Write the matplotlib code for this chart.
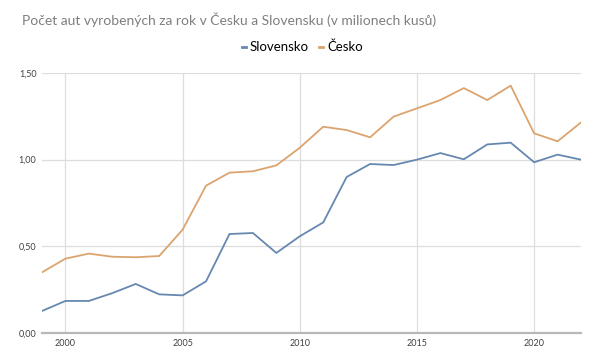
import matplotlib
matplotlib.use("Agg")
import matplotlib.pyplot as plt
from matplotlib.ticker import FuncFormatter
from matplotlib.lines import Line2D

# data (millions of cars)
years = list(range(1999, 2023))
slovensko = [0.127, 0.185, 0.185, 0.23, 0.283, 0.223, 0.217, 0.298, 0.571, 0.577,
             0.462, 0.558, 0.638, 0.90, 0.975, 0.969, 1.0, 1.038, 1.002, 1.088,
             1.098, 0.985, 1.029, 1.0]
cesko = [0.35, 0.429, 0.458, 0.44, 0.437, 0.444, 0.596, 0.85, 0.925, 0.933,
         0.967, 1.069, 1.19, 1.171, 1.129, 1.248, 1.296, 1.344, 1.413, 1.344,
         1.427, 1.152, 1.106, 1.215]
x_ticks = [2000, 2005, 2010, 2015, 2020]
y_ticks = [0.0, 0.5, 1.0, 1.5]

blue = "#6688b0"
orange = "#dba46e"

plt.rcParams["font.family"] = ["Lato", "DejaVu Sans"]

fig = plt.figure(figsize=(6.05, 3.64), dpi=100)
ax = fig.add_axes([42 / 605, 1 - 333 / 364, (581 - 42) / 605, (333 - 73) / 364])

ax.plot(years, slovensko, color=blue, lw=1.3)
ax.plot(years, cesko, color=orange, lw=1.3)

ax.set_xlim(1999, 2022)
ax.set_ylim(0, 1.5)
ax.set_xticks(x_ticks)
ax.set_yticks(y_ticks)
ax.yaxis.set_major_formatter(FuncFormatter(lambda v, p: f"{v:.2f}".replace(".", ",")))
ax.tick_params(length=0, labelsize=6.5, colors="#404040", pad=4)

ax.grid(True, color="#dddddd", lw=0.9)
ax.set_axisbelow(True)
for s in ["top", "right", "left"]:
    ax.spines[s].set_visible(False)
ax.spines["bottom"].set_color("#b8b8b8")
ax.spines["bottom"].set_linewidth(1.6)

fig.text(22 / 605, 1 - 20 / 364, "Počet aut vyrobených za rok v Česku a Slovensku (v milionech kusů)",
         fontsize=10, color="#7f7f7f", va="center", ha="left")

handles = [Line2D([], [], color=blue, lw=2), Line2D([], [], color=orange, lw=2)]
fig.legend(handles, ["Slovensko", "Česko"], loc="center", bbox_to_anchor=(0.5, 1 - 47 / 364),
           ncol=2, frameon=False, fontsize=9.5, handlelength=0.3, handletextpad=0.3,
           columnspacing=0.8)

fig.savefig("out.png", dpi=100)
